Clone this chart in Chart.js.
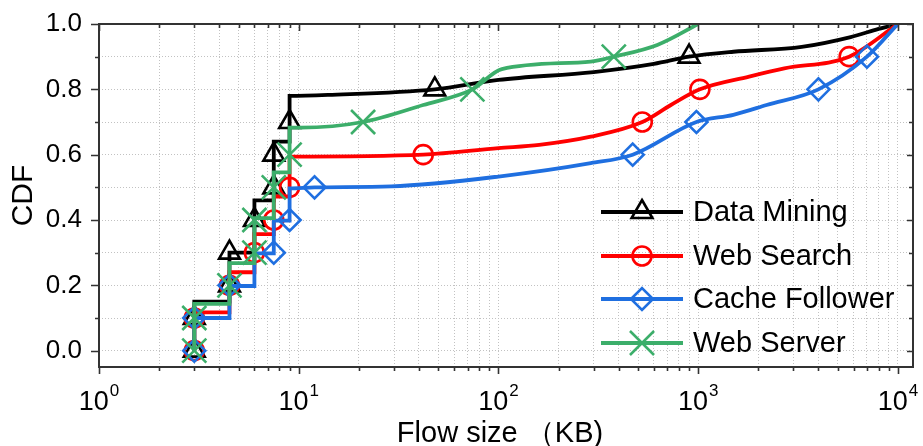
<!DOCTYPE html>
<html>
<head>
<meta charset="utf-8">
<script src="https://cdn.jsdelivr.net/npm/chart.js@4/dist/chart.umd.min.js"></script>
<style>
  html, body { margin: 0; padding: 0; background: #ffffff; }
  #wrap { width: 923px; height: 446px; }
</style>
</head>
<body>
<div id="wrap"><canvas id="cdf" width="923" height="446"></canvas></div>
<script>
// ---- Flow size CDFs (KB) for four datacenter workloads ----
const seriesNames = ['Data Mining', 'Web Search', 'Cache Follower', 'Web Server'];

// Data Mining
const miningX = [3, 3, 4.5, 4.5, 6, 6, 7.5, 7.5, 9, 9, 14, 48, 100, 300, 600, 900, 1500, 3300, 5800, 8000, 10000];
const miningY = [0, 0.15, 0.15, 0.30, 0.30, 0.46, 0.46, 0.64, 0.64, 0.78, 0.783, 0.80, 0.829, 0.853, 0.878, 0.90, 0.915, 0.93, 0.96, 0.985, 1.0];
const miningMarkX = [3, 3, 4.5, 4.5, 6, 7.5, 7.5, 9, 48, 900];
const miningMarkY = [0, 0.1, 0.2, 0.3, 0.4, 0.5, 0.6, 0.7, 0.8, 0.9];

// Web Search
const searchX = [3, 3, 4.5, 4.5, 6, 6, 7.5, 7.5, 9, 9, 42, 100, 160, 290, 525, 730, 1020, 1800, 2700, 5700, 10000];
const searchY = [0, 0.117, 0.117, 0.24, 0.24, 0.357, 0.357, 0.472, 0.472, 0.594, 0.60, 0.62, 0.63, 0.655, 0.70, 0.752, 0.80, 0.839, 0.864, 0.90, 1.0];
const searchMarkX = [3, 3, 4.5, 6, 7.5, 9, 42, 525, 1020, 5700];
const searchMarkY = [0, 0.1, 0.2, 0.3, 0.4, 0.5, 0.6, 0.7, 0.8, 0.9];

// Cache Follower
const cacheX = [3, 3, 4.5, 4.5, 6, 6, 7.5, 7.5, 9, 9, 12, 29, 100, 290, 470, 980, 1500, 2200, 4000, 7000, 10000];
const cacheY = [0, 0.1, 0.1, 0.198, 0.198, 0.298, 0.298, 0.398, 0.398, 0.497, 0.50, 0.503, 0.533, 0.574, 0.60, 0.70, 0.722, 0.752, 0.80, 0.90, 1.0];
const cacheMarkX = [3, 3, 4.5, 7.5, 9, 12, 470, 980, 4000, 7000];
const cacheMarkY = [0, 0.1, 0.2, 0.3, 0.4, 0.5, 0.6, 0.7, 0.8, 0.9];

// Web Server
const serverX = [3, 3, 4.5, 4.5, 6, 6, 7.5, 7.5, 9, 9, 10.2, 21, 42, 74, 104, 290, 378, 624, 1000];
const serverY = [0, 0.143, 0.143, 0.268, 0.268, 0.406, 0.406, 0.546, 0.546, 0.683, 0.683, 0.70, 0.752, 0.80, 0.862, 0.885, 0.90, 0.936, 1.0];
const serverMarkX = [3, 3, 4.5, 6, 6, 7.5, 9, 21, 74, 378];
const serverMarkY = [0, 0.1, 0.2, 0.3, 0.4, 0.5, 0.6, 0.7, 0.8, 0.9];

// Axis ticks
const yTickValues = [0, 0.1, 0.2, 0.3, 0.4, 0.5, 0.6, 0.7, 0.8, 0.9, 1.0];
const yTickLabels = ['0.0', '0.2', '0.4', '0.6', '0.8', '1.0'];
const xDecades = [1, 10, 100, 1000, 10000];
const xDecadeExponents = ['0', '1', '2', '3', '4'];
const xMinorMantissas = [2, 3, 4, 5, 6, 7, 8, 9];

const FONT = "'Liberation Sans', Arial, Helvetica, sans-serif";
const COLORS = ['#000000', '#ff0000', '#1f6fe0', '#3cae6a'];
const STYLES = [
  { pointStyle: 'triangle', radius: 12, borderWidth: 2.6 },
  { pointStyle: 'circle',   radius: 9.5, borderWidth: 2.6 },
  { pointStyle: 'rectRot',  radius: 11, borderWidth: 2.6 },
  { pointStyle: 'crossRot', radius: 17, borderWidth: 2.6 }
];

const toPoints = (xs, ys) => xs.map((x, i) => ({ x: x, y: ys[i] }));

const lineSets = [
  [miningX, miningY], [searchX, searchY], [cacheX, cacheY], [serverX, serverY]
];
const markSets = [
  [miningMarkX, miningMarkY], [searchMarkX, searchMarkY], [cacheMarkX, cacheMarkY], [serverMarkX, serverMarkY]
];

const xGridValues = [];
xDecades.forEach((d, i) => {
  xGridValues.push(d);
  if (i < xDecades.length - 1) xMinorMantissas.forEach(m => xGridValues.push(m * d));
});

const datasets = [];
seriesNames.forEach((name, k) => {
  // later series are drawn on top of earlier ones
  const base = (seriesNames.length - k) * 2;
  datasets.push({
    label: name,
    data: toPoints(lineSets[k][0], lineSets[k][1]),
    borderColor: COLORS[k],
    backgroundColor: COLORS[k],
    borderWidth: 3.8,
    pointRadius: 0,
    pointHoverRadius: 0,
    cubicInterpolationMode: 'monotone',
    fill: false,
    order: base
  });
  datasets.push({
    label: name + ' markers',
    data: toPoints(markSets[k][0], markSets[k][1]),
    showLine: false,
    borderColor: COLORS[k],
    backgroundColor: 'rgba(0,0,0,0)',
    pointStyle: STYLES[k].pointStyle,
    pointRadius: STYLES[k].radius,
    pointHoverRadius: STYLES[k].radius,
    pointBorderWidth: STYLES[k].borderWidth,
    clip: false,
    order: base - 1
  });
});

function drawMarker(ctx, style, x, y, color) {
  ctx.save();
  ctx.strokeStyle = color;
  ctx.fillStyle = 'rgba(0,0,0,0)';
  ctx.lineWidth = style.borderWidth;
  if (Chart.helpers && Chart.helpers.drawPoint) {
    Chart.helpers.drawPoint(ctx, { pointStyle: style.pointStyle, radius: style.radius, rotation: 0, borderWidth: style.borderWidth }, x, y);
  } else {
    const r = style.radius;
    ctx.beginPath();
    if (style.pointStyle === 'circle') {
      ctx.arc(x, y, r, 0, Math.PI * 2);
    } else if (style.pointStyle === 'triangle') {
      for (let j = 0; j < 3; j++) {
        const a = j * 2 * Math.PI / 3;
        const px = x + Math.sin(a) * r, py = y - Math.cos(a) * r;
        if (j === 0) ctx.moveTo(px, py); else ctx.lineTo(px, py);
      }
      ctx.closePath();
    } else if (style.pointStyle === 'rectRot') {
      ctx.moveTo(x, y - r); ctx.lineTo(x + r, y); ctx.lineTo(x, y + r); ctx.lineTo(x - r, y); ctx.closePath();
    } else {
      const o = r * Math.SQRT1_2;
      ctx.moveTo(x - o, y - o); ctx.lineTo(x + o, y + o);
      ctx.moveTo(x + o, y - o); ctx.lineTo(x - o, y + o);
    }
    ctx.stroke();
  }
  ctx.restore();
}

// Frame, tick marks, power-of-ten labels, x title and legend
const decorations = {
  id: 'decorations',
  afterDraw(chart) {
    const ctx = chart.ctx;
    const area = chart.chartArea;
    const xs = chart.scales.x, ys = chart.scales.y;
    ctx.save();

    // tick marks
    ctx.strokeStyle = '#333333';
    ctx.lineWidth = 1.6;
    ctx.beginPath();
    yTickValues.forEach(v => {
      const py = Math.round(ys.getPixelForValue(v)) + 0.5;
      const major = Math.round(v * 10) % 2 === 0;
      ctx.moveTo(area.left, py); ctx.lineTo(area.left - (major ? 8 : 4), py);
      ctx.moveTo(area.right, py); ctx.lineTo(area.right - (major ? 6 : 4), py);
    });
    xGridValues.forEach(v => {
      const px = Math.round(xs.getPixelForValue(v)) + 0.5;
      const major = xDecades.includes(v);
      ctx.moveTo(px, area.bottom); ctx.lineTo(px, area.bottom + (major ? 7 : 4));
      ctx.moveTo(px, area.top); ctx.lineTo(px, area.top + (major ? 7 : 4));
    });
    ctx.stroke();

    // frame
    ctx.lineWidth = 2;
    ctx.strokeStyle = '#333333';
    ctx.strokeRect(area.left, area.top, area.right - area.left, area.bottom - area.top);

    // x tick labels 10^n
    ctx.fillStyle = '#000000';
    ctx.textBaseline = 'alphabetic';
    ctx.textAlign = 'left';
    xDecades.forEach((v, i) => {
      const px = xs.getPixelForValue(v);
      ctx.font = '27px ' + FONT;
      const w1 = ctx.measureText('10').width;
      ctx.font = '17px ' + FONT;
      const w2 = ctx.measureText(xDecadeExponents[i]).width;
      const x0 = px - (w1 + w2 + 1) / 2;
      ctx.font = '27px ' + FONT;
      ctx.fillText('10', x0, 410);
      ctx.font = '17px ' + FONT;
      ctx.fillText(xDecadeExponents[i], x0 + w1 + 1, 396);
    });

    // x axis title
    ctx.font = '29px ' + FONT;
    ctx.textAlign = 'center';
    ctx.fillText('Flow size （KB)', 500, 442);

    // legend
    const rowY = [212, 256, 299, 343];
    seriesNames.forEach((name, k) => {
      const y = rowY[k];
      ctx.strokeStyle = COLORS[k];
      ctx.lineWidth = 4;
      ctx.beginPath();
      ctx.moveTo(601, y); ctx.lineTo(683, y);
      ctx.stroke();
      drawMarker(ctx, STYLES[k], 642, y, COLORS[k]);
      ctx.fillStyle = '#000000';
      ctx.font = '29px ' + FONT;
      ctx.textAlign = 'left';
      ctx.textBaseline = 'middle';
      ctx.fillText(name, 693, y + 1);
    });
    ctx.restore();
  }
};

new Chart(document.getElementById('cdf'), {
  type: 'line',
  data: { datasets: datasets },
  options: {
    responsive: false,
    animation: false,
    devicePixelRatio: 1,
    layout: { autoPadding: false, padding: { top: 24, right: 10, left: 0, bottom: 0 } },
    plugins: { legend: { display: false }, tooltip: { enabled: false } },
    events: [],
    scales: {
      x: {
        type: 'logarithmic',
        bounds: 'data',
        min: 1,
        max: 11900,
        afterBuildTicks: s => { s.ticks = xGridValues.map(v => ({ value: v, major: xDecades.includes(v) })); },
        afterFit: s => { s.height = 79; s.paddingLeft = 0; s.paddingRight = 0; },
        ticks: { display: false },
        grid: { color: '#c2c2c2', lineWidth: 1, drawTicks: false },
        border: { display: false, dash: [1, 2] }
      },
      y: {
        type: 'linear',
        bounds: 'data',
        min: -0.05,
        max: 1.0,
        afterBuildTicks: s => { s.ticks = yTickValues.map(v => ({ value: v })); },
        afterFit: s => { s.width = 99; s.paddingTop = 0; s.paddingBottom = 0; },
        ticks: {
          autoSkip: false,
          padding: 17,
          color: '#000000',
          font: { family: FONT, size: 26 },
          callback: v => {
            const tenths = Math.round(v * 10);
            return tenths % 2 === 0 ? yTickLabels[tenths / 2] : '';
          }
        },
        grid: { color: '#c2c2c2', lineWidth: 1, drawTicks: false },
        border: { display: false, dash: [1, 2] },
        title: {
          display: true,
          text: 'CDF',
          color: '#000000',
          font: { family: FONT, size: 30 },
          padding: { top: 6, bottom: 0 }
        }
      }
    }
  },
  plugins: [decorations]
});
</script>
</body>
</html>
